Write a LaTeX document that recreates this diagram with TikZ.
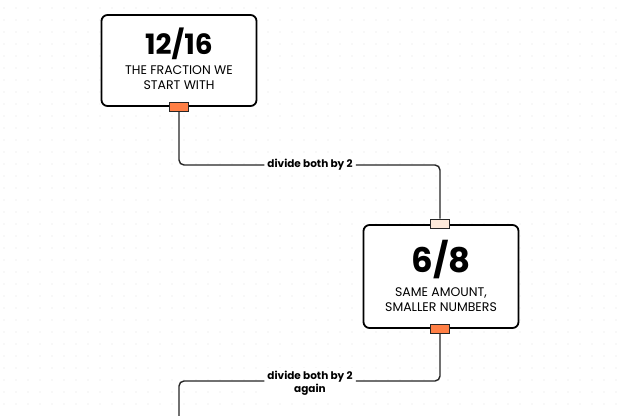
\documentclass[tikz,border=0pt]{standalone}
\usepackage{fontspec}
\setmainfont{Poppins}
\usetikzlibrary{positioning,calc}
\definecolor{portorange}{HTML}{FF7F45}
\definecolor{portpeach}{HTML}{FDE9DA}
\definecolor{griddot}{HTML}{E4E4E4}
\tikzset{
  card/.style={rectangle,draw=black,line width=1.8pt,rounded corners=6pt,fill=white,minimum width=155pt,align=center,inner sep=0pt},
  port/.style={rectangle,draw=black!85,line width=1pt,minimum width=19pt,minimum height=9pt,inner sep=0pt},
  outp/.style={port,fill=portorange},
  inp/.style={port,fill=portpeach},
  conn/.style={draw=black!85,line width=1.4pt,rounded corners=5pt},
  lbl/.style={fill=white,inner sep=3pt,align=center,font=\fontsize{10.5}{13}\selectfont\bfseries},
  big/.style={align=center,inner sep=0pt,font=\fontsize{28}{30}\selectfont\bfseries},
  sub/.style={align=center,inner sep=0pt,font=\fontsize{12.5}{14.5}\selectfont},
}
\begin{document}
\begin{tikzpicture}[x=1pt,y=-1pt]
  \useasboundingbox (0,0) rectangle (620,415);
  \fill[white] (0,0) rectangle (620,415);
  % dot grid
  \foreach \x in {4,16,...,620}
    \foreach \y in {8,20,...,415}
      \fill[griddot] (\x,\y) circle (0.6pt);

  \node[card,minimum height=91pt] (start) at (179,60.5) {};
  \node[big] (startnum) at (179,44) {12/16};
  \node[sub] (starttxt) at (179,77.5) {THE FRACTION WE\\START WITH};

  \node[card,minimum height=103pt] (half) at (441,276.5) {};
  \node[big,font=\fontsize{34}{36}\selectfont\bfseries] (halfnum) at (441,260) {6/8};
  \node[sub] (halftxt) at (441,299.5) {SAME AMOUNT,\\SMALLER NUMBERS};

  \node[outp] (startout) at (179,107) {};
  \node[inp] (halfin) at (440,223.5) {};
  \node[outp] (halfout) at (440,329) {};

  \node[lbl] (step1) at (310,165) {divide both by 2};
  \node[lbl,anchor=north] (step2) at (310,368) {divide both by 2\\again};
  \coordinate (step2in) at (step2.north west |- 0,381);
  \coordinate (step2out) at (step2.north east |- 0,381);
  \coordinate (offpage) at (179,430);

  \draw[conn] (startout.south) |- (step1.west);
  \draw[conn] (step1.east) -| (halfin.north);
  \draw[conn] (halfout.south) |- (step2out);
  \draw[conn] (step2in) -| (offpage);
\end{tikzpicture}
\end{document}
